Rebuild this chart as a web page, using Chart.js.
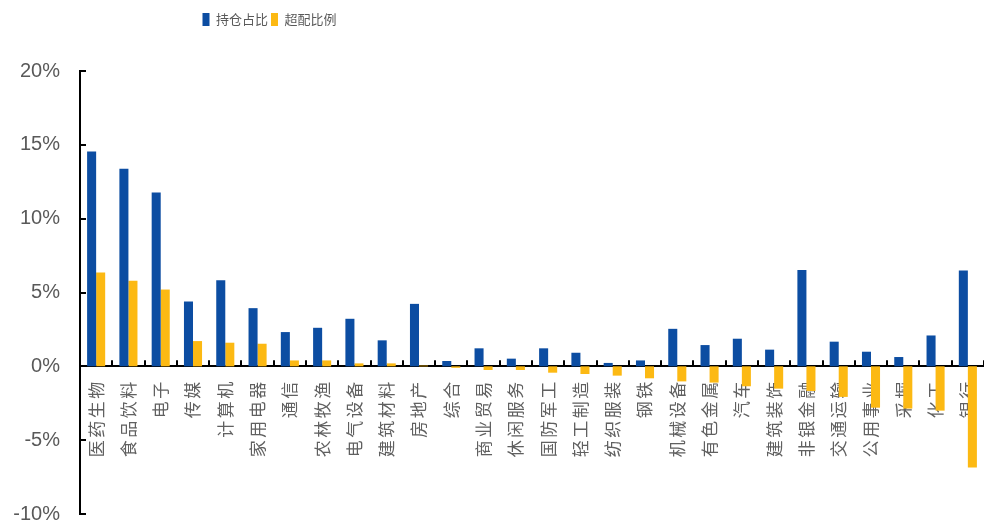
<!DOCTYPE html>
<html>
<head>
<meta charset="utf-8">
<script src="https://cdn.jsdelivr.net/npm/chart.js@4/dist/chart.umd.min.js"></script>
<style>
  html, body { margin: 0; padding: 0; background: #ffffff; }
  #wrap { width: 984px; height: 521px; }
</style>
</head>
<body>
<div id="wrap"><canvas id="c" width="984" height="521"></canvas></div>
<script>
const categories = ['医药生物','食品饮料','电子','传媒','计算机','家用电器','通信','农林牧渔','电气设备','建筑材料','房地产','综合','商业贸易','休闲服务','国防军工','轻工制造','纺织服装','钢铁','机械设备','有色金属','汽车','建筑装饰','非银金融','交通运输','公用事业','采掘','化工','银行'];
const holdingShare = [14.55, 13.38, 11.78, 4.39, 5.83, 3.94, 2.32, 2.61, 3.22, 1.76, 4.23, 0.36, 1.22, 0.52, 1.22, 0.92, 0.23, 0.40, 2.54, 1.44, 1.87, 1.13, 6.53, 1.67, 0.99, 0.63, 2.09, 6.49];
const overweightRatio = [6.35, 5.79, 5.20, 1.71, 1.60, 1.53, 0.40, 0.40, 0.20, 0.20, 0.05, -0.10, -0.25, -0.25, -0.43, -0.52, -0.63, -0.81, -1.02, -1.10, -1.35, -1.51, -1.67, -2.07, -2.80, -2.86, -3.00, -6.85];
const seriesNames = ['持仓占比', '超配比例'];
const yTicks = [-10, -5, 0, 5, 10, 15, 20];

const BLUE = 'rgb(12,77,162)';
const ORANGE = 'rgb(252,185,19)';
const CJK = '"Noto Sans CJK SC", "Noto Sans", sans-serif';

const innerTicks = {
  id: 'innerTicks',
  afterLayout(chart) {
    const xs = chart.scales.x;
    if (xs && !xs._spacedLabels) {
      const orig = xs.drawLabels;
      xs.drawLabels = function (area) {
        const ctx = this.ctx;
        ctx.save();
        try { ctx.letterSpacing = '2.5px'; } catch (e) {}
        orig.call(this, area);
        ctx.restore();
      };
      xs._spacedLabels = true;
    }
  },
  beforeDraw(chart) {
    const lg = chart.legend;
    if (lg) {
      const w = lg.width;
      lg.left = 199.5; lg.right = 199.5 + w;
      lg.top = 10; lg.bottom = 10 + lg.height;
    }
  },
  afterDatasetsDraw(chart) {
    const ctx = chart.ctx, x = chart.scales.x, y = chart.scales.y;
    const y0 = y.getPixelForValue(0);
    const left = chart.chartArea.left;
    ctx.save();
    ctx.strokeStyle = '#000';
    ctx.lineWidth = 2;
    ctx.beginPath();
    yTicks.forEach(v => {
      const py = Math.round(y.getPixelForValue(v));
      ctx.moveTo(left - 1, py);
      ctx.lineTo(left + 6, py);
    });
    for (let i = 1; i <= categories.length; i++) {
      const px = Math.round(x.getPixelForValue(i - 0.5));
      ctx.moveTo(px, y0);
      ctx.lineTo(px, y0 - 6);
    }
    ctx.stroke();
    ctx.restore();
  }
};

new Chart(document.getElementById('c'), {
  type: 'bar',
  data: {
    labels: categories,
    datasets: [
      { label: seriesNames[0], data: holdingShare, backgroundColor: BLUE, borderWidth: 0, categoryPercentage: 0.56, barPercentage: 1.0 },
      { label: seriesNames[1], data: overweightRatio, backgroundColor: ORANGE, borderWidth: 0, categoryPercentage: 0.56, barPercentage: 1.0 }
    ]
  },
  options: {
    responsive: false,
    animation: false,
    devicePixelRatio: 1,
    layout: { padding: { top: 45, bottom: 0, left: 0, right: 0 } },
    plugins: {
      legend: {
        display: true,
        position: 'top',
        align: 'start',
        labels: {
          boxWidth: 7,
          boxHeight: 13,
          padding: 3,
          color: '#595959',
          font: { family: CJK, size: 13 }
        }
      },
      tooltip: { enabled: false }
    },
    scales: {
      x: {
        type: 'category',
        position: { y: 0 },
        offset: true,
        afterFit(s) {
          s.height = 0;
          s.paddingLeft = 0; s.paddingRight = 0; s.paddingTop = 0; s.paddingBottom = 0;
        },
        grid: { display: false, drawTicks: false },
        border: { display: true, color: '#000', width: 2 },
        ticks: {
          autoSkip: false,
          minRotation: 90,
          maxRotation: 90,
          padding: 13,
          color: '#606060',
          font: { family: CJK, size: 17 }
        }
      },
      y: {
        min: -10,
        max: 20,
        afterFit(s) { s.width = 80; s.paddingBottom = 7; },
        afterBuildTicks(s) { s.ticks = yTicks.map(v => ({ value: v })); },
        grid: { display: false, drawTicks: false },
        border: { display: true, color: '#000', width: 2 },
        ticks: {
          padding: 20,
          color: '#595959',
          font: { family: '"Liberation Sans", Arial, sans-serif', size: 20 },
          callback: v => v + '%'
        }
      }
    }
  },
  plugins: [innerTicks]
});
</script>
</body>
</html>
